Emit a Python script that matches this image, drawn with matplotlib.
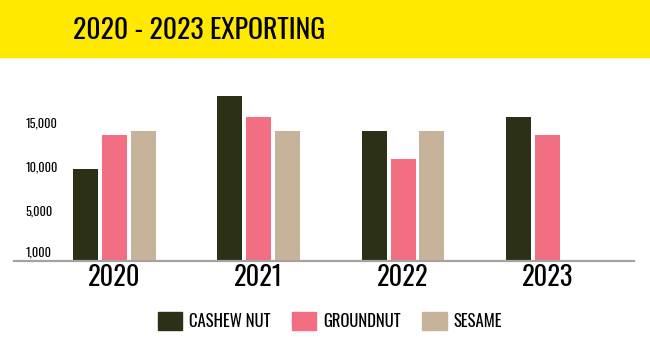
import matplotlib
matplotlib.use("Agg")
import matplotlib.pyplot as plt
import numpy as np
from matplotlib.patches import Patch, Rectangle

plt.rcParams["font.family"] = ["Oswald", "DejaVu Sans"]

years = ["2020", "2021", "2022", "2023"]
products = ["CASHEW NUT", "GROUNDNUT", "SESAME"]
cashew = [10500, 18900, 14900, 16500]
groundnut = [14400, 16500, 11700, 14400]
sesame = [14900, 14900, 14900, np.nan]
colors = ["#2B3016", "#F26E82", "#C7B29A"]
ytick_vals = [1000, 5000, 10000, 15000]
ytick_labels = ["1,000", "5,000", "10,000", "15,000"]

W, H = 650, 350
fig = plt.figure(figsize=(W / 100, H / 100), dpi=100)

# yellow header band
fig.patches.append(Rectangle((0, 1 - 57 / H), 1, 57 / H, transform=fig.transFigure,
                             color="#FFE900", zorder=0))
fig.text(73 / W, 1 - 39 / H, "2020 - 2023 EXPORTING", fontsize=20,
         color="black", va="baseline", ha="left")

ax = fig.add_axes([14 / W, (H - 261) / H, 620 / W, (261 - 80) / H])

x = np.arange(len(years))
step, width = 0.2, 0.173
for i, (vals, c, name) in enumerate(zip([cashew, groundnut, sesame], colors, products)):
    ax.bar(x + (i - 1) * step, vals, width=width, color=c, label=name, zorder=2)

ax.set_xlim(-0.695, 3.6)
ax.set_ylim(0, 20700)

for s in ["top", "right", "left"]:
    ax.spines[s].set_visible(False)
ax.spines["bottom"].set_color("#A3A3A3")
ax.spines["bottom"].set_linewidth(1.6)
ax.spines["bottom"].set_zorder(3)

ax.set_xticks(x, years)
ax.tick_params(axis="x", length=0, pad=2, labelsize=19)

ax.set_yticks(ytick_vals, ytick_labels)
ax.tick_params(axis="y", length=0, pad=-8, labelsize=8.8)
for lab in ax.get_yticklabels():
    lab.set_horizontalalignment("left")
    lab.set_verticalalignment("center" if lab.get_text() == "1,000" else "bottom")
    lab.set_fontweight("light")

handles = [Patch(color=c, label=n) for c, n in zip(colors, products)]
fig.legend(handles=handles, loc="center", bbox_to_anchor=(330 / W, (H - 321) / H),
           ncol=3, frameon=False, fontsize=12, handlelength=1.45,
           handleheight=1.25, handletextpad=0.4, columnspacing=1.3)

fig.savefig("out.png", dpi=100, facecolor="white")
